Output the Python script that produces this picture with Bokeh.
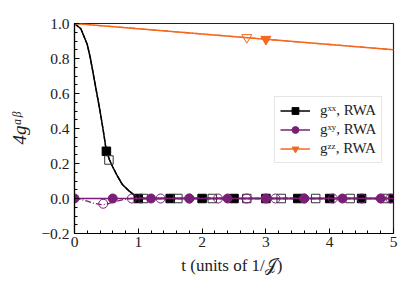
from bokeh.plotting import figure
from bokeh.models import Range1d, SingleIntervalTicker, CustomJSTickFormatter, Legend, LegendItem
from bokeh.embed import file_html
from bokeh.resources import INLINE

# ---- data ----
t_curve = [0, 0.1, 0.2, 0.25, 0.3, 0.35, 0.4, 0.45, 0.5, 0.55, 0.6, 0.67, 0.75, 0.85, 0.95, 1.05, 1.5, 2.0, 2.5, 3.0, 3.5, 4.0, 4.5, 5.0]
gxx = [1.0, 0.97, 0.88, 0.80, 0.70, 0.60, 0.50, 0.39, 0.27, 0.22, 0.18, 0.13, 0.08, 0.045, 0.015, 0.0, 0, 0, 0, 0, 0, 0, 0, 0]

t_xx_mk = [0.5, 1.0, 1.5, 2.0, 2.5, 3.0, 3.5, 4.0, 4.5, 5.0]
gxx_mk = [0.27, 0, 0, 0, 0, 0, 0, 0, 0, 0]
t_xx_open = [0.54, 1.08, 1.62, 2.16, 2.70, 3.24, 3.78, 4.32, 4.86]
gxx_open = [0.22, 0, 0, 0, 0, 0, 0, 0, 0]

t_xy = [0, 5.0]
gxy = [0, 0]
t_xy_mk = [0, 0.6, 1.2, 1.8, 2.4, 3.0, 3.6, 4.2, 4.8]
gxy_mk = [0, 0, 0, 0, 0, 0, 0, 0, 0]
t_xy_alt = [0, 0.1, 0.2, 0.3, 0.4, 0.45, 0.5, 0.6, 0.7, 0.8, 0.9, 1.0, 5.0]
gxy_alt = [0, -0.005, -0.015, -0.027, -0.034, -0.035, -0.033, -0.022, -0.012, -0.004, 0.0, 0.002, 0.0]
t_xy_open = [0.45, 0.9, 1.35, 1.8, 2.25, 2.7, 3.15, 3.6, 4.05, 4.5, 4.95]
gxy_open = [-0.03, 0, 0, 0, 0, 0, 0, 0, 0, 0, 0]

t_zz = [0, 1, 2, 3, 4, 5]
gzz = [1.0, 0.97, 0.94, 0.91, 0.88, 0.85]
t_zz_mk = [3.0]
gzz_mk = [0.91]
t_zz_open = [2.7]
gzz_open = [0.92]

BLACK = "#000000"
PURPLE = "#7a1f76"
ORANGE = "#f4691f"
FONT = "Liberation Serif"

p = figure(frame_width=319, frame_height=210,
           min_border_left=74, min_border_right=14, min_border_top=23, min_border_bottom=54,
           x_range=Range1d(0, 5), y_range=Range1d(-0.2, 1.0),
           output_backend="svg", toolbar_location=None)
p.grid.visible = False
p.outline_line_color = "#222222"
p.outline_line_width = 1.2
p.background_fill_color = "white"
p.border_fill_color = "white"

p.xaxis.ticker = SingleIntervalTicker(interval=1, num_minor_ticks=5)
p.yaxis.ticker = SingleIntervalTicker(interval=0.2, num_minor_ticks=4)
p.yaxis.formatter = CustomJSTickFormatter(code="""
if (Math.abs(tick) < 1e-9) return '0.0';
return tick.toFixed(1).replace('-', '\u2212');
""")
for ax in (p.xaxis, p.yaxis):
    ax.major_tick_in = 5
    ax.major_tick_out = 0
    ax.minor_tick_in = 3
    ax.minor_tick_out = 0
    ax.axis_line_color = BLACK
    ax.axis_line_width = 1.2
    ax.major_tick_line_color = BLACK
    ax.minor_tick_line_color = BLACK
    ax.major_label_text_font = FONT
    ax.major_label_text_font_size = "15.5px"
    ax.major_label_text_color = "#222222"
    ax.axis_label_text_font = FONT
    ax.axis_label_text_font_size = "17px"
    ax.axis_label_text_font_style = "normal"
    ax.axis_label_text_color = "#222222"
p.xaxis.major_label_standoff = 3
p.yaxis.major_label_standoff = 5
p.xaxis.axis_label = "t  (units of 1/\U0001D4A5)"
p.yaxis.axis_label = "4g\u1d45\u1d5d"
p.yaxis.axis_label_text_font_style = "italic"
p.yaxis.axis_label_text_font_size = "19px"
p.xaxis.axis_label_standoff = 6
p.yaxis.axis_label_standoff = 8

# g^xx
p.line(t_curve, gxx, line_color=BLACK, line_width=1.3, line_dash="5 2")
lxx = p.line(t_curve, gxx, line_color=BLACK, line_width=1.5)
sxx = p.scatter(t_xx_mk, gxx_mk, marker="square", size=8.5, fill_color=BLACK, line_color=BLACK)
p.scatter(t_xx_open, gxx_open, marker="square", size=8.5, fill_alpha=0, line_color="#333333", line_width=1)

# g^xy
p.line(t_xy_alt, gxy_alt, line_color=PURPLE, line_width=1.3, line_dash="6 2 1 2")
lxy = p.line(t_xy, gxy, line_color=PURPLE, line_width=1.5)
sxy = p.scatter(t_xy_mk, gxy_mk, marker="circle", size=9, fill_color=PURPLE, line_color=PURPLE)
p.scatter(t_xy_open, gxy_open, marker="circle", size=9, fill_alpha=0, line_color=PURPLE, line_width=1)

# g^zz
p.line(t_zz, gzz, line_color=ORANGE, line_width=1.3, line_dash="6 2 1 2")
lzz = p.line(t_zz, gzz, line_color=ORANGE, line_width=1.5)
szz = p.scatter(t_zz_mk, gzz_mk, marker="inverted_triangle", size=10, fill_color=ORANGE, line_color=ORANGE)
p.scatter(t_zz_open, gzz_open, marker="inverted_triangle", size=10, fill_alpha=0, line_color=ORANGE, line_width=1)

legend = Legend(items=[
    LegendItem(label="g\u02e3\u02e3, RWA", renderers=[lxx, sxx]),
    LegendItem(label="g\u02e3\u02b8, RWA", renderers=[lxy, sxy]),
    LegendItem(label="g\u1dbb\u1dbb, RWA", renderers=[lzz, szz]),
], location=(200, 75))
legend.label_text_font = FONT
legend.label_text_font_size = "15px"
legend.label_text_color = "#222222"
legend.border_line_color = "#cccccc"
legend.border_line_width = 1
legend.background_fill_alpha = 0.85
legend.glyph_width = 30
legend.glyph_height = 17
legend.label_height = 17
legend.spacing = 2
legend.padding = 5
legend.margin = 0
legend.label_standoff = 10
legend.location = (200, 70)
p.add_layout(legend, "center")

open("out.html", "w").write(file_html(p, INLINE))
